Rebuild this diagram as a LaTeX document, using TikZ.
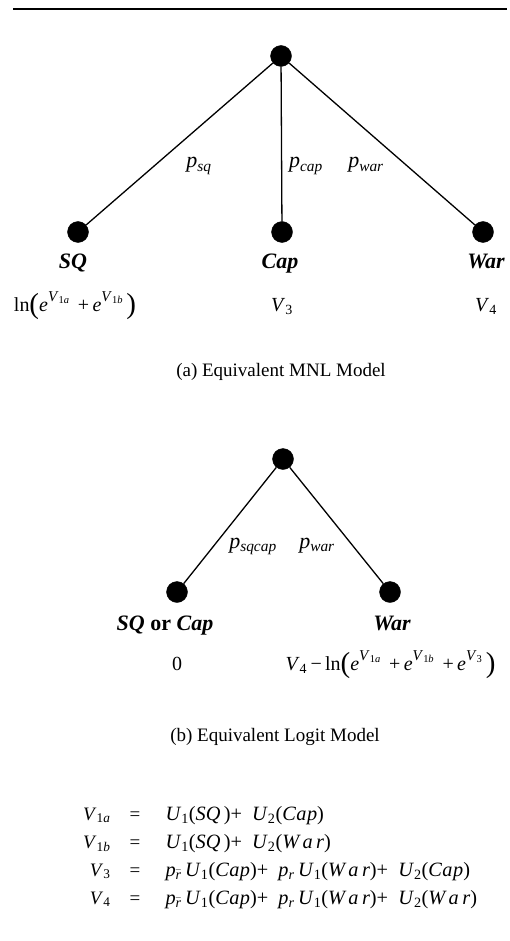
\documentclass[tikz,border=0pt]{standalone}
\usepackage{fontspec}
\setmainfont{Liberation Serif}
\newcommand\vv[1]{\textit{V}\textsubscript{#1}}
\newcommand\uu[1]{\textit{U}\textsubscript{#1}}
\newcommand\ex[1]{\textit{e}\raisebox{0.5em}{\fontsize{15}{15}\selectfont\textit{V}\textsubscript{#1}}}
\newcommand\bigpar[1]{{\fontsize{29}{29}\selectfont\raisebox{-0.1em}{#1}}}
\newcommand\rbar{\textsubscript{$\bar{\hbox{\textit{r}}}$}}
\newcommand\cpw{\textit{C\kern0.5pt a\kern0.5pt p}}
\newcommand\wrw{\textit{W\,a\,r}}
\begin{document}
\begin{tikzpicture}[x=1pt,y=-1pt,
  dot/.style={circle,fill=black,draw=black,inner sep=0pt,minimum size=21pt},
  conn/.style={line width=1.3pt},
  lab/.style={font=\fontsize{22}{24}\selectfont\bfseries\itshape,anchor=base},
  val/.style={font=\fontsize{20}{22}\selectfont,anchor=base},
  plab/.style={font=\fontsize{22}{24}\selectfont,anchor=base},
  captxt/.style={font=\fontsize{19}{22}\selectfont,anchor=base},
  eql/.style={font=\fontsize{19}{21}\selectfont},
  eq/.style={font=\fontsize{20.3}{22}\selectfont}]
\useasboundingbox (0,0) rectangle (510,941);
\draw[line width=2.2pt] (13,9) -- (507,9);
% tree (a)
\node[dot] (ra) at (281,56) {};
\node[dot] (sq) at (78,232) {};
\node[dot] (cp) at (282,232) {};
\node[dot] (wr) at (483,232) {};
\draw[conn] (ra) -- (sq);
\draw[conn] (ra) -- (cp);
\draw[conn] (ra) -- (wr);
\node[plab] (psq) at (199,168) {\textit{p}\textsubscript{\textit{sq}}};
\node[plab] (pcap) at (306,168) {\textit{p}\textsubscript{\textit{cap}}};
\node[plab] (pwar) at (366,168) {\textit{p}\textsubscript{\textit{war}}};
\node[lab] (lsq) at (73,268) {SQ};
\node[lab] (lcp) at (280,268) {Cap};
\node[lab] (lwr) at (486,268) {War};
\node[val] (vsq) at (75,311) {ln\bigpar{(}\ex{1\textit{a}} \,+\,\ex{1\textit{b}}\,\bigpar{)}};
\node[val] (vcp) at (282,311) {\vv{3}};
\node[val] (vwr) at (486,311) {\vv{4}};
\node[captxt] (capa) at (281,376) {(a) Equivalent MNL Model};
% tree (b)
\node[dot] (rb) at (283,459) {};
\node[dot] (sc) at (177,592) {};
\node[dot] (wb) at (390,592) {};
\draw[conn] (rb) -- (sc);
\draw[conn] (rb) -- (wb);
\node[plab] (psc) at (253,548) {\textit{p}\textsubscript{\textit{sqcap}}};
\node[plab] (pwb) at (317,548) {\textit{p}\textsubscript{\textit{war}}};
\node[lab] (lsc) at (165,630) {SQ \textup{or} Cap};
\node[lab] (lwb) at (392,630) {War};
\node[val] (vsc) at (177,670) {0};
\node[val,anchor=base west] (vwb) at (282,670) {\vv{4}\,−\,ln\bigpar{(}\ex{1\textit{a}} \,+\,\ex{1\textit{b}} \,+\,\ex{3}\,\bigpar{)}};
\node[captxt] (capb) at (275,741) {(b) Equivalent Logit Model};
% equations
\foreach \y/\l/\r [count=\i] in {
  820/{\vv{1\textit{a}}}/{\uu{1}(\textit{SQ}\,)+ \ \uu{2}(\cpw)},
  848/{\vv{1\textit{b}}}/{\uu{1}(\textit{SQ}\,)+ \ \uu{2}(\wrw)},
  876/{\vv{3}}/{\textit{p}\rbar\,\uu{1}(\cpw)+ \ \textit{p}\textsubscript{\textit{r}}\,\uu{1}(\wrw)+ \ \uu{2}(\cpw)},
  904/{\vv{4}}/{\textit{p}\rbar\,\uu{1}(\cpw)+ \ \textit{p}\textsubscript{\textit{r}}\,\uu{1}(\wrw)+ \ \uu{2}(\wrw)}}{
  \node[eql,anchor=base east] (l\i) at (114,\y) {\l};
  \node[eql,anchor=base] (e\i) at (135,\y) {=};
  \node[eq,anchor=base west] (r\i) at (162,\y) {\r};
}
\end{tikzpicture}
\end{document}
